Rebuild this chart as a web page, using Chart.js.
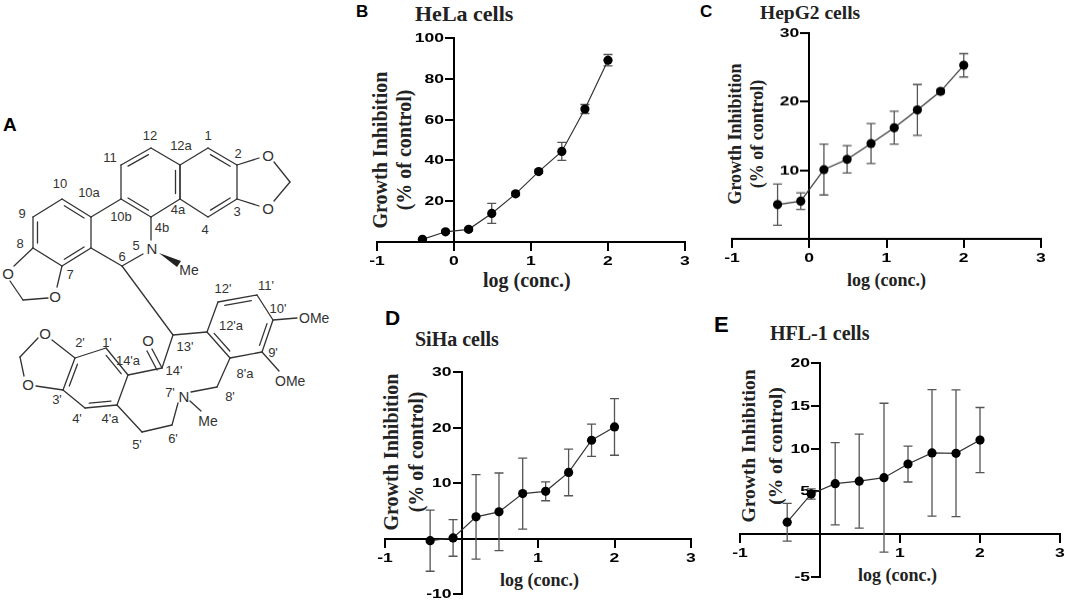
<!DOCTYPE html>
<html>
<head>
<meta charset="utf-8">
<script src="https://cdn.jsdelivr.net/npm/chart.js@4.4.1/dist/chart.umd.min.js"></script>
<style>
  html, body { margin: 0; padding: 0; background: #fff; }
  body { width: 1065px; height: 605px; position: relative; overflow: hidden; }
  canvas { position: absolute; }
  .lbl { position: absolute; font-family: "Liberation Sans", Arial, sans-serif; font-weight: bold; line-height: 1; color: #000; white-space: nowrap; }
  .ttl { position: absolute; font-family: "Liberation Serif", "Times New Roman", serif; font-weight: bold; line-height: 1; color: #222; white-space: nowrap; }
  .ytl { position: absolute; font-family: "Liberation Serif", "Times New Roman", serif; font-weight: bold; color: #222; white-space: nowrap; text-align: center; transform-origin: center center; }
  #mol { position: absolute; left: 0; top: 0; }
  #mol text { font-family: "Liberation Sans", Arial, sans-serif; fill: #333; }
</style>
</head>
<body>

<svg id="mol" width="345" height="460"></svg>

<div class="lbl" style="left:3px;top:115px;font-size:19px">A</div>
<div class="lbl" style="left:356px;top:3px;font-size:17px">B</div>
<div class="lbl" style="left:700px;top:3px;font-size:17px">C</div>
<div class="lbl" style="left:385px;top:307px;font-size:21px">D</div>
<div class="lbl" style="left:714px;top:314px;font-size:22px">E</div>

<div class="ttl" style="left:415px;top:3px;font-size:22px">HeLa cells</div>
<div class="ttl" style="left:760px;top:3px;font-size:19.5px">HepG2 cells</div>
<div class="ttl" style="left:415px;top:329px;font-size:20px">SiHa cells</div>
<div class="ttl" style="left:770px;top:323px;font-size:20px">HFL-1 cells</div>

<div class="ttl" style="left:483px;top:270px;font-size:20px">log (conc.)</div>
<div class="ttl" style="left:847px;top:271px;font-size:18px">log (conc.)</div>
<div class="ttl" style="left:500px;top:571px;font-size:18px">log (conc.)</div>
<div class="ttl" style="left:858px;top:566px;font-size:18px">log (conc.)</div>

<div class="ytl" id="ytB" style="font-size:20px;line-height:24px">Growth Inhibition<br>(% of control)</div>
<div class="ytl" id="ytC" style="font-size:18px;line-height:22px">Growth Inhibition<br>(% of control)</div>
<div class="ytl" id="ytD" style="font-size:20px;line-height:25px">Growth Inhibition<br>(% of control)</div>
<div class="ytl" id="ytE" style="font-size:19.5px;line-height:27px">Growth Inhibition<br>(% of control)</div>

<canvas id="chartB"></canvas>
<canvas id="chartC"></canvas>
<canvas id="chartD"></canvas>
<canvas id="chartE"></canvas>

<script>
// ==========================
// Data
// ==========================

const logConc = [-0.41, -0.11, 0.19, 0.49, 0.80, 1.10, 1.40, 1.70, 2.00];
const xTicks = [-1, 0, 1, 2, 3];

const helaMean = [1.3, 5.0, 6.2, 14.0, 23.6, 34.5, 44.4, 65.2, 89.1];
const helaSd = [0.5, 0.8, 0.8, 4.9, 0.8, 0.8, 4.4, 2.2, 2.8];
const helaTicks = [0, 20, 40, 60, 80, 100];

const hepg2Mean = [5.0, 5.5, 10.1, 11.6, 13.9, 16.2, 18.8, 21.5, 25.3];
const hepg2Sd = [3.0, 1.2, 3.7, 2.0, 2.9, 2.4, 3.7, 0.3, 1.7];
const hepg2Ticks = [0, 10, 20, 30];

const sihaMean = [-0.4, 0.1, 3.9, 4.8, 8.1, 8.5, 11.9, 17.7, 20.1];
const sihaSd = [5.5, 3.3, 7.6, 7.0, 6.4, 1.7, 4.2, 2.9, 5.1];
const sihaTicks = [-10, 0, 10, 20, 30];

const hflMean = [1.4, 4.7, 5.9, 6.2, 6.6, 8.2, 9.5, 9.45, 11.0];
const hflSd = [2.2, 0.6, 4.8, 5.5, 8.7, 2.1, 7.4, 7.4, 3.8];
const hflTicks = [-5, 0, 5, 10, 15, 20];


// ==========================
// Error bars plugin
// ==========================

const errorBars = {
    id: "errorBars",
    beforeDatasetsDraw(chart) {
        const ctx = chart.ctx;
        const xs = chart.scales.x;
        const ys = chart.scales.y;
        ctx.save();
        ctx.strokeStyle = "#555";
        ctx.lineWidth = 1.3;
        chart.data.datasets.forEach(ds => {
            ds.data.forEach((p, i) => {
                const err = ds.errors[i];
                const px = xs.getPixelForValue(p.x);
                const top = ys.getPixelForValue(p.y + err);
                const bot = ys.getPixelForValue(p.y - err);
                ctx.beginPath();
                ctx.moveTo(px, top);
                ctx.lineTo(px, bot);
                ctx.moveTo(px - 4.5, top);
                ctx.lineTo(px + 4.5, top);
                ctx.moveTo(px - 4.5, bot);
                ctx.lineTo(px + 4.5, bot);
                ctx.stroke();
            });
        });
        ctx.restore();
    }
};


// ==========================
// Tick labels next to the crossing axes
// (Prism style: wide bold digits, no "0" at the crossing)
// ==========================

const tickText = {
    id: "tickText",
    afterDraw(chart, args, opts) {
        const ctx = chart.ctx;
        const xs = chart.scales.x;
        const ys = chart.scales.y;
        const axisX = xs.getPixelForValue(0);
        const axisY = ys.getPixelForValue(0);
        ctx.save();
        ctx.fillStyle = "#000";
        ctx.font = "bold 13px 'Liberation Sans', Arial, sans-serif";

        ctx.textAlign = "right";
        ctx.textBaseline = "middle";
        ys.ticks.forEach(t => {
            if (t.value === 0) return;
            ctx.save();
            ctx.translate(axisX - 10, ys.getPixelForValue(t.value) + 0.5);
            ctx.scale(1.35, 1);
            ctx.fillText(String(t.value), 0, 0);
            ctx.restore();
        });

        ctx.textAlign = "center";
        ctx.textBaseline = "top";
        xs.ticks.forEach(t => {
            if (opts.hideZeroX && t.value === 0) return;
            ctx.save();
            ctx.translate(xs.getPixelForValue(t.value), axisY + 13);
            ctx.scale(1.35, 1);
            ctx.fillText(String(t.value), 0, 0);
            ctx.restore();
        });
        ctx.restore();
    }
};


// ==========================
// One plot per panel
// ==========================

const PAD = { left: 44, right: 14, top: 10, bottom: 30 };

function makePlot(id, area, means, sds, yTicks, hideZeroX) {

    const cv = document.getElementById(id);
    const w = area.r - area.l + PAD.left + PAD.right;
    const h = area.b - area.t + PAD.top + PAD.bottom;
    cv.width = w;
    cv.height = h;
    cv.style.width = w + "px";
    cv.style.height = h + "px";
    cv.style.left = (area.l - PAD.left) + "px";
    cv.style.top = (area.t - PAD.top) + "px";

    const axisGrid = { drawOnChartArea: false, drawTicks: true, tickLength: 8, color: "#000", lineWidth: 2 };
    const axisBorder = { color: "#000", width: 2 };

    return new Chart(cv, {
        type: "scatter",
        data: {
            datasets: [{
                data: logConc.map((x, i) => ({ x: x, y: means[i] })),
                errors: sds,
                showLine: true,
                borderColor: "#333",
                borderWidth: 1.2,
                pointRadius: 4.6,
                pointHoverRadius: 4.6,
                pointBackgroundColor: "#000",
                pointBorderColor: "#000",
                pointBorderWidth: 0
            }]
        },
        options: {
            responsive: false,
            animation: false,
            events: [],
            layout: { padding: PAD },
            plugins: {
                legend: { display: false },
                tooltip: { enabled: false },
                tickText: { hideZeroX: hideZeroX }
            },
            scales: {
                x: {
                    type: "linear",
                    position: { y: 0 },
                    min: xTicks[0],
                    max: xTicks[xTicks.length - 1],
                    afterBuildTicks: s => { s.ticks = xTicks.map(v => ({ value: v })); },
                    ticks: { display: false },
                    grid: axisGrid,
                    border: axisBorder
                },
                y: {
                    type: "linear",
                    position: { x: 0 },
                    min: yTicks[0],
                    max: yTicks[yTicks.length - 1],
                    afterBuildTicks: s => { s.ticks = yTicks.map(v => ({ value: v })); },
                    ticks: { display: false },
                    grid: axisGrid,
                    border: axisBorder
                }
            }
        },
        plugins: [errorBars, tickText]
    });
}

makePlot("chartB", { l: 377, r: 685, t: 38, b: 242 }, helaMean, helaSd, helaTicks, false);
makePlot("chartC", { l: 732, r: 1041, t: 33, b: 238.5 }, hepg2Mean, hepg2Sd, hepg2Ticks, false);
makePlot("chartD", { l: 385, r: 691, t: 372, b: 594 }, sihaMean, sihaSd, sihaTicks, true);
makePlot("chartE", { l: 740, r: 1060, t: 363, b: 577 }, hflMean, hflSd, hflTicks, true);


// ==========================
// Rotated y axis titles
// ==========================

function placeYTitle(id, cx, cy) {
    const el = document.getElementById(id);
    const r = el.getBoundingClientRect();
    el.style.left = (cx - r.width / 2) + "px";
    el.style.top = (cy - r.height / 2) + "px";
    el.style.transform = "rotate(-90deg)";
}

placeYTitle("ytB", 392, 150);
placeYTitle("ytC", 746, 134);
placeYTitle("ytD", 404, 452);
placeYTitle("ytE", 762, 446);


// ==========================
// Structure drawing (panel A)
// ==========================

const svg = document.getElementById("mol");
const NS = "http://www.w3.org/2000/svg";

function bond(a, b, w) {
    const l = document.createElementNS(NS, "line");
    l.setAttribute("x1", a[0]); l.setAttribute("y1", a[1]);
    l.setAttribute("x2", b[0]); l.setAttribute("y2", b[1]);
    l.setAttribute("stroke", "#333");
    l.setAttribute("stroke-width", w || 1.3);
    l.setAttribute("stroke-linecap", "round");
    svg.appendChild(l);
}

function label(t, x, y, size, anchor) {
    const e = document.createElementNS(NS, "text");
    e.setAttribute("x", x); e.setAttribute("y", y);
    e.setAttribute("font-size", size || 13);
    e.setAttribute("text-anchor", anchor || "middle");
    e.setAttribute("dominant-baseline", "central");
    e.textContent = t;
    svg.appendChild(e);
}

function ring(pts, inner) {
    const cx = pts.reduce((s, p) => s + p[0], 0) / pts.length;
    const cy = pts.reduce((s, p) => s + p[1], 0) / pts.length;
    pts.forEach((p, i) => bond(p, pts[(i + 1) % pts.length]));
    inner.forEach(i => {
        const p = pts[i], q = pts[(i + 1) % pts.length];
        const mx = (p[0] + q[0]) / 2, my = (p[1] + q[1]) / 2;
        let dx = cx - mx, dy = cy - my;
        const d = Math.hypot(dx, dy);
        dx = dx / d * 4.5; dy = dy / d * 4.5;
        const s = 0.16;
        bond([p[0] + (q[0] - p[0]) * s + dx, p[1] + (q[1] - p[1]) * s + dy],
             [q[0] + (p[0] - q[0]) * s + dx, q[1] + (p[1] - q[1]) * s + dy]);
    });
}

// upper naphthalene + left benzene
const a12 = [151, 148], a12a = [180, 165], a4a = [180, 199], a4b = [151, 217], a10b = [121, 199], a11 = [121, 165];
const a1 = [208, 148], a2 = [237, 165], a3 = [237, 199], a4 = [208, 217];
const a10 = [62, 199], a10a = [91, 217], a6a = [91, 248], a7 = [62, 266], a8 = [33, 248], a9 = [33, 217];
const c6 = [122, 266];

ring([a12, a12a, a4a, a4b, a10b, a11], [5, 1, 3]);
ring([a1, a2, a3, a4, a4a, a12a], [0, 2]);
ring([a10, a10a, a6a, a7, a8, a9], [0, 2, 4]);

bond(a10a, a10b);
bond(a6a, c6);
bond(c6, [143, 254]);
bond(a4b, [151, 240]);
bond(a2, [259, 158]); bond([274, 162], [290, 182]); bond([290, 182], [274, 201]); bond([259, 206], a3);
bond(a8, [14, 266]); bond([10, 281], [23, 300]); bond([23, 300], [48, 298]); bond([57, 287], a7);

const wedge = document.createElementNS(NS, "polygon");
wedge.setAttribute("points", "159,253 181,261 177,267");
wedge.setAttribute("fill", "#222");
svg.appendChild(wedge);

// lower isoquinoline half
const c13 = [173, 335];
const p12a = [207, 332], p12 = [218, 302], p11 = [257, 295], p10 = [273, 320], p9 = [262, 352], p8a = [230, 358];
const q1 = [106, 348], q14a = [128, 375], q4a = [117, 405], q4 = [85, 408], q3 = [63, 390], q2 = [75, 358];
const c14 = [162, 368], c8 = [217, 387], c6p = [172, 425], c5p = [142, 432];

bond(c6, c13);
ring([p12a, p12, p11, p10, p9, p8a], [1, 3, 5]);
ring([q1, q14a, q4a, q4, q3, q2], [0, 2, 4]);
bond(c13, p12a);
bond(p10, [297, 318]);
bond(p9, [279, 371]);
bond(p8a, c8);
bond(c8, [191, 392]);
bond([178, 403], c6p);
bond(c6p, c5p);
bond(c5p, q4a);
bond([190, 401], [201, 411]);
bond(q14a, c14);
bond(c14, c13);
bond(c14, [152, 349]);
bond([157, 370], [147, 351]);
bond(q2, [52, 340]); bond([38, 338], [20, 357]); bond([20, 357], [24, 376]); bond([36, 386], q3);

// atom labels
label("O", 268, 155, 15); label("O", 268, 208, 15);
label("O", 8, 273, 15); label("O", 55, 296, 15);
label("N", 152, 248, 15); label("Me", 189, 270, 14);
label("O", 148, 340, 15);
label("O", 45, 333, 15); label("O", 28, 384, 15);
label("N", 184, 396, 15); label("Me", 208, 421, 14);
label("OMe", 299, 318, 14, "start"); label("OMe", 275, 381, 14, "start");

// position numbers
[["12", 150, 135], ["12a", 181, 145], ["1", 208, 135], ["2", 238, 153], ["11", 110, 157],
 ["10", 60, 183], ["10a", 89, 192], ["9", 22, 213], ["8", 20, 243], ["7", 70, 274],
 ["10b", 121, 216], ["4b", 162, 227], ["4a", 178, 209], ["3", 237, 211], ["4", 205, 229],
 ["5", 136, 245], ["6", 122, 256],
 ["12'", 223, 288], ["11'", 266, 285], ["10'", 278, 308], ["12'a", 231, 325], ["9'", 273, 352],
 ["8'a", 245, 373], ["8'", 230, 396], ["7'", 170, 392], ["6'", 173, 438], ["5'", 137, 444],
 ["4'a", 110, 418], ["4'", 77, 418], ["3'", 57, 399], ["2'", 80, 342], ["1'", 107, 342],
 ["14'a", 128, 360], ["14'", 174, 370], ["13'", 185, 346]
].forEach(n => label(n[0], n[1], n[2], 13));
</script>
</body>
</html>
